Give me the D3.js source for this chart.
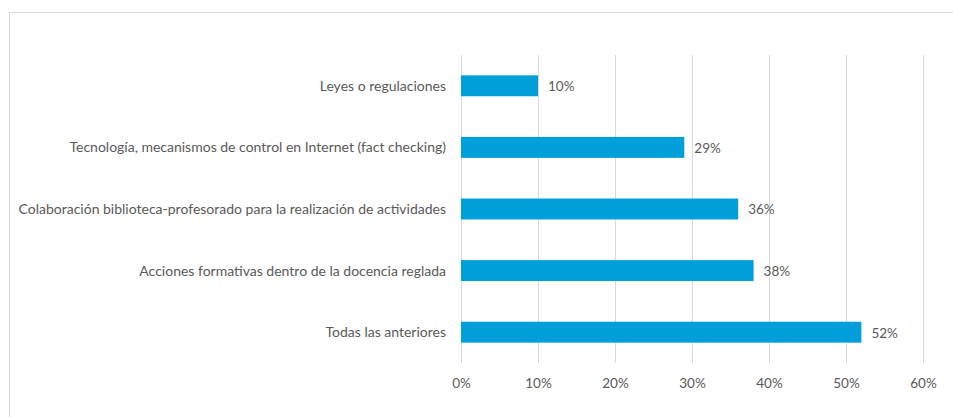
<!DOCTYPE html>
<html>
<head>
<meta charset="utf-8">
<script src="https://cdn.jsdelivr.net/npm/d3@7"></script>
<style>
  body { margin: 0; background: #fff; }
  svg { display: block; }
</style>
</head>
<body>
<svg width="953" height="417"></svg>
<script>
// data
const categories = [
    "Leyes o regulaciones",
    "Tecnología, mecanismos de control en Internet (fact checking)",
    "Colaboración biblioteca-profesorado para la realización de actividades",
    "Acciones formativas dentro de la docencia reglada",
    "Todas las anteriores"
];
const values = [0.10, 0.29, 0.36, 0.38, 0.52];
const xTicks = [0, 0.1, 0.2, 0.3, 0.4, 0.5, 0.6];

const data = categories.map((c, i) => ({name: c, value: values[i]}));

const svg = d3.select("svg");
const font = "Lato, 'Open Sans', sans-serif";
const textColor = "#595959";

// chart frame
svg.append("rect")
    .attr("x", 9.5)
    .attr("y", 12.5)
    .attr("width", 960)
    .attr("height", 420)
    .attr("fill", "none")
    .attr("stroke", "#d9d9d9");

const plotLeft = 461, plotRight = 923, plotTop = 55, plotBottom = 363;

const x = d3.scaleLinear()
    .domain([0, 0.6])
    .range([plotLeft, plotRight]);

const y = d3.scaleBand()
    .domain(categories)
    .range([plotTop, plotBottom])
    .paddingInner(0.66)
    .paddingOuter(0.33);

// gridlines
svg.append("g")
    .selectAll("line")
    .data(xTicks)
    .enter().append("line")
    .attr("x1", d => Math.round(x(d)) + 0.5)
    .attr("x2", d => Math.round(x(d)) + 0.5)
    .attr("y1", plotTop)
    .attr("y2", plotBottom)
    .attr("stroke", "#d9d9d9")
    .attr("stroke-width", 1);

// x axis labels
const xAxis = d3.axisBottom(x)
    .tickValues(xTicks)
    .tickFormat(d3.format(".0%"))
    .tickSize(0)
    .tickPadding(15);

svg.append("g")
    .attr("transform", `translate(0, ${plotBottom})`)
    .call(xAxis)
    .call(g => g.select(".domain").remove())
    .selectAll("text")
        .attr("fill", textColor)
        .style("font-family", font)
        .style("font-size", "13.5px");

// bars
svg.append("g")
    .selectAll("rect")
    .data(data)
    .enter().append("rect")
    .attr("x", x(0))
    .attr("y", d => y(d.name))
    .attr("width", d => x(d.value) - x(0))
    .attr("height", y.bandwidth())
    .attr("fill", "#009fda");

// value labels
svg.append("g")
    .selectAll("text")
    .data(data)
    .enter().append("text")
    .attr("x", d => x(d.value) + 10)
    .attr("y", d => y(d.name) + y.bandwidth() / 2)
    .attr("dy", "0.4em")
    .attr("fill", textColor)
    .style("font-family", font)
    .style("font-size", "13.5px")
    .text(d => d3.format(".0%")(d.value));

// category labels
svg.append("g")
    .selectAll("text")
    .data(data)
    .enter().append("text")
    .attr("x", 446)
    .attr("y", d => y(d.name) + y.bandwidth() / 2)
    .attr("dy", "0.35em")
    .attr("text-anchor", "end")
    .attr("fill", textColor)
    .style("font-family", font)
    .style("font-size", "14px")
    .text(d => d.name);
</script>
</body>
</html>
